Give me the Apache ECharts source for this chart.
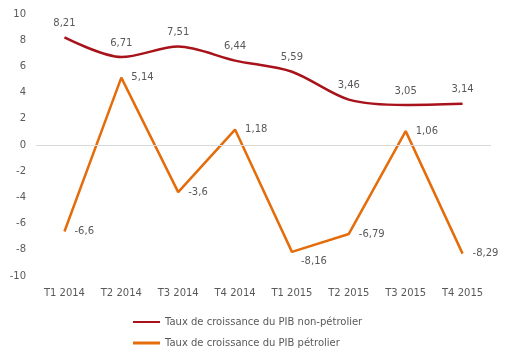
<!DOCTYPE html>
<html><head><meta charset="utf-8">
<script src="https://cdn.jsdelivr.net/npm/echarts@6/dist/echarts.min.js"></script>
<style>html,body{margin:0;padding:0;background:#fff}#c{width:506px;height:358px}</style>
</head><body><div id="c"></div>
<script>
var categories = ["T1 2014","T2 2014","T3 2014","T4 2014","T1 2015","T2 2015","T3 2015","T4 2015"];
var nonPetrolier = [8.21, 6.71, 7.51, 6.44, 5.59, 3.46, 3.05, 3.14];
var petrolier = [-6.6, 5.14, -3.6, 1.18, -8.16, -6.79, 1.06, -8.29];
var seriesNames = ["Taux de croissance du PIB non-pétrolier", "Taux de croissance du PIB pétrolier"];
var yTicks = [-10, 10, 2];

var fmt = function(v){ return String(v).replace('.', ','); };
var font = '"DejaVu Sans", sans-serif';
var txt = '#595959';

var petData = petrolier.map(function(v, i){
  var d = {value: v};
  if (i === 4) d.label = {position: 'bottom', distance: 4, offset: [22, 0]};
  return d;
});

var chart = echarts.init(document.getElementById('c'));
chart.setOption({
  animation: false,
  textStyle: {fontFamily: font},
  grid: {left: 36, right: 15, top: 14, bottom: 82},
  xAxis: {
    type: 'category', data: categories, boundaryGap: true,
    axisLine: {show: false}, axisTick: {show: false},
    axisLabel: {color: txt, fontSize: 10, fontFamily: font, margin: 12, interval: 0}
  },
  yAxis: {
    type: 'value', min: yTicks[0], max: yTicks[1], interval: yTicks[2],
    splitLine: {show: false}, axisLine: {show: false}, axisTick: {show: false},
    axisLabel: {color: txt, fontSize: 10, fontFamily: font, margin: 10,
      formatter: function(v){ return v; }}
  },
  legend: {
    orient: 'vertical', left: 128, top: 312, itemGap: 11,
    itemWidth: 27, itemHeight: 3,
    textStyle: {color: txt, fontSize: 10, fontFamily: font},
    data: [
      {name: seriesNames[0], icon: 'path://M0,0L27,0L27,2L0,2Z', itemStyle: {color: '#A8121A'}, lineStyle: {width: 0}},
      {name: seriesNames[1], icon: 'path://M0,0L27,0L27,3L0,3Z', itemStyle: {color: '#E46C0A'}, lineStyle: {width: 0}}
    ]
  },
  series: [
    {
      name: seriesNames[0], type: 'line', data: nonPetrolier, smooth: 0.3,
      symbol: 'circle', symbolSize: 0.1, showSymbol: true,
      lineStyle: {color: '#A8121A', width: 2.5}, itemStyle: {color: '#A8121A'},
      label: {show: true, position: 'top', distance: 9, color: txt, fontSize: 10, fontFamily: font, formatter: function(p){ return fmt(p.value); }},
      markLine: {silent: true, symbol: 'none', label: {show: false},
        lineStyle: {color: '#d9d9d9', width: 1, type: 'solid'}, data: [{yAxis: 0}]}
    },
    {
      name: seriesNames[1], type: 'line', data: petData,
      symbol: 'circle', symbolSize: 0.1, showSymbol: true,
      lineStyle: {color: '#E46C0A', width: 2.5}, itemStyle: {color: '#E46C0A'},
      label: {show: true, position: 'right', distance: 10, color: txt, fontSize: 10, fontFamily: font, formatter: function(p){ return fmt(p.value); }}
    }
  ]
});
</script></body></html>
